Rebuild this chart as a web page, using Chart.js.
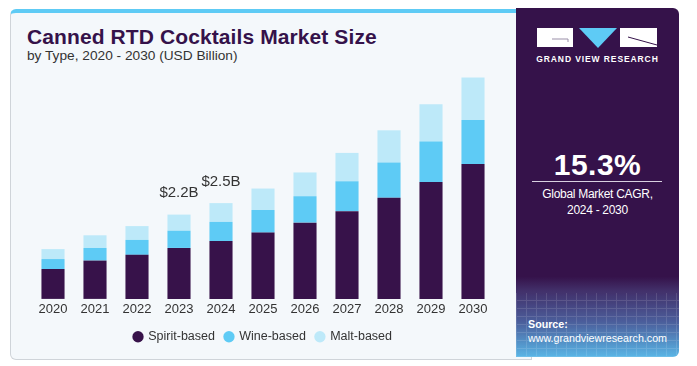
<!DOCTYPE html>
<html>
<head>
<meta charset="utf-8">
<script src="https://cdn.jsdelivr.net/npm/chart.js@4.4.1/dist/chart.umd.min.js"></script>
<style>
  body { margin: 0; width: 697px; height: 366px; background: #fff; position: relative; overflow: hidden; font-family: 'Liberation Sans', Arial, sans-serif; }
  .card { position: absolute; left: 10px; top: 9px; width: 520px; height: 346px; background: #f4f8fb; border: 1px solid #cfd4d9; border-top: 4px solid #5ecbf5; border-radius: 6px 0 0 6px; }
  .title { position: absolute; left: 27px; top: 25px; font-size: 21px; font-weight: bold; color: #35124a; letter-spacing: 0.1px; }
  .subtitle { position: absolute; left: 27px; top: 48px; font-size: 13.7px; color: #333; }
  .side { position: absolute; left: 516px; top: 8px; width: 163px; height: 349px; border-radius: 0 6px 6px 0; overflow: hidden;
    background: linear-gradient(180deg, #35124a 0%, #35124a 77%, #42306a 81%, #4c5f9c 90%, #5ab6e6 100%); }
  .grid { position: absolute; left: 0; top: 285px; width: 163px; height: 64px; opacity: 0.12;
    background: repeating-linear-gradient(90deg, #fff 0 1px, transparent 1px 10px),
                repeating-linear-gradient(0deg, #fff 0 1px, transparent 1px 8px); }
  .logo { position: absolute; top: 20px; }
  .gvr { position: absolute; left: 0; top: 46px; width: 163px; text-align: center; font-size: 8.5px; font-weight: bold; color: #fff; letter-spacing: 0.9px; white-space: nowrap; }
  .cagr { position: absolute; left: 0; width: 163px; top: 140px; text-align: center; font-size: 30px; font-weight: bold; color: #fff; letter-spacing: 0.5px; }
  .rule { position: absolute; left: 16px; top: 173px; width: 130px; height: 1px; background: #d8d0e0; }
  .cagr-txt { position: absolute; left: 0; width: 163px; top: 178px; text-align: center; font-size: 12px; color: #fff; line-height: 16px; letter-spacing: -0.3px; }
  .src { position: absolute; left: 12px; top: 309px; font-size: 10.7px; color: #fff; line-height: 14px; }
  #chart { position: absolute; left: 10px; top: 60px; }
</style>
</head>
<body>
<div class="card"></div>
<div class="title">Canned RTD Cocktails Market Size</div>
<div class="subtitle">by Type, 2020 - 2030 (USD Billion)</div>
<div class="side">
  <div class="grid"></div>
  <svg class="logo" width="163" height="30">
    <rect x="21" y="0" width="36" height="19" fill="#fff"/>
    <path d="M36 11 H52 V14" stroke="#9a8fa8" stroke-width="1" fill="none"/>
    <polygon points="63,0 101,0 82,20" fill="#5ecbf5"/>
    <rect x="104" y="0" width="37" height="19" fill="#fff"/>
    <path d="M112 9 L141 17" stroke="#35124a" stroke-width="1"/>
  </svg>
  <div class="gvr">GRAND VIEW RESEARCH</div>
  <div class="cagr">15.3%</div>
  <div class="rule"></div>
  <div class="cagr-txt">Global Market CAGR,<br>2024 - 2030</div>
  <div class="src"><b>Source:</b><br>www.grandviewresearch.com</div>
</div>
<canvas id="chart" width="505" height="297"></canvas>
<script>
const years = ['2020', '2021', '2022', '2023', '2024', '2025', '2026', '2027', '2028', '2029', '2030'];
const spiritBased = [0.78, 1.00, 1.15, 1.33, 1.51, 1.73, 1.99, 2.29, 2.64, 3.05, 3.52];
const wineBased = [0.26, 0.33, 0.39, 0.45, 0.50, 0.59, 0.69, 0.78, 0.92, 1.06, 1.15];
const maltBased = [0.26, 0.33, 0.36, 0.42, 0.49, 0.56, 0.62, 0.74, 0.84, 0.97, 1.11];
const labelledYears = ['2023', '2024'];

const totalLabels = {
    id: 'totalLabels',
    afterDatasetsDraw(chart) {
        const ctx = chart.ctx;
        const top = chart.getDatasetMeta(chart.data.datasets.length - 1);
        ctx.save();
        ctx.font = '15px "Liberation Sans", Arial, sans-serif';
        ctx.fillStyle = '#333';
        ctx.textAlign = 'center';
        ctx.textBaseline = 'bottom';
        labelledYears.forEach((yr) => {
            const i = years.indexOf(yr);
            const total = spiritBased[i] + wineBased[i] + maltBased[i];
            const bar = top.data[i];
            ctx.fillText('$' + total.toFixed(1) + 'B', bar.x, bar.y - 14);
        });
        ctx.restore();
    },
};

new Chart(document.getElementById('chart'), {
    type: 'bar',
    data: {
        labels: years,
        datasets: [
            { label: 'Spirit-based', data: spiritBased, backgroundColor: '#37124a' },
            { label: 'Wine-based', data: wineBased, backgroundColor: '#5ecbf5' },
            { label: 'Malt-based', data: maltBased, backgroundColor: '#bde9f9' },
        ],
    },
    options: {
        responsive: false,
        animation: false,
        barPercentage: 0.55,
        categoryPercentage: 1,
        layout: { padding: { top: 9, left: 22, right: 21, bottom: 4 } },
        scales: {
            x: {
                stacked: true,
                grid: { display: false, drawTicks: false },
                border: { display: false },
                ticks: { color: '#333', font: { size: 13, family: '"Liberation Sans", Arial, sans-serif' }, padding: 3 },
            },
            y: { stacked: true, display: false, min: 0, max: 6 },
        },
        plugins: {
            legend: {
                position: 'bottom',
                labels: {
                    usePointStyle: true,
                    pointStyle: 'circle',
                    boxWidth: 8,
                    boxHeight: 8,
                    padding: 10,
                    color: '#333',
                    font: { size: 12.5, family: '"Liberation Sans", Arial, sans-serif' },
                },
            },
            tooltip: { enabled: false },
        },
    },
    plugins: [totalLabels],
});
</script>
</body>
</html>
